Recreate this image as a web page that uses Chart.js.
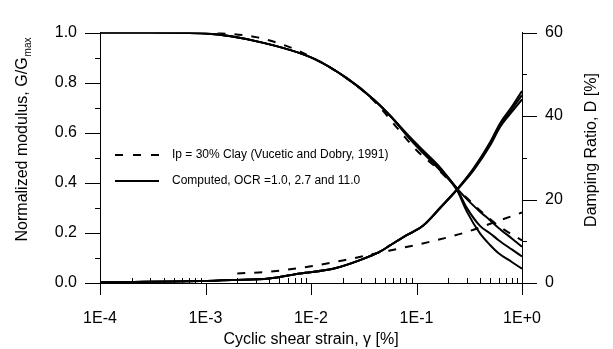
<!DOCTYPE html>
<html>
<head>
<meta charset="utf-8">
<script src="https://cdn.jsdelivr.net/npm/chart.js@4/dist/chart.umd.min.js"></script>
<style>
  html, body { margin: 0; padding: 0; background: #fff; }
  #wrap { width: 613px; height: 349px; }
</style>
</head>
<body>
<div id="wrap"><canvas id="chart"></canvas></div>
<script>
// axis ticks
const strainTicks = [1e-4, 1e-3, 1e-2, 1e-1, 1];
const strainLabels = ["1E-4", "1E-3", "1E-2", "1E-1", "1E+0"];
const modTicks = [0, 0.2, 0.4, 0.6, 0.8, 1.0];
const dampTicks = [0, 20, 40, 60];

// Ip = 30% clay (Vucetic and Dobry, 1991)
const vdStrainG = [0.0013, 0.003, 0.006, 0.01, 0.02, 0.04, 0.07, 0.1, 0.15, 0.24, 0.4, 0.6, 1.0];
const vdModulus = [1.0, 0.982, 0.945, 0.903, 0.828, 0.725, 0.605, 0.53, 0.465, 0.38, 0.29, 0.228, 0.17];
const vdStrainD = [0.002, 0.004, 0.01, 0.02, 0.045, 0.07, 0.13, 0.28, 0.5, 1.0];
const vdDamping = [2.3, 2.7, 4.0, 5.4, 7.3, 8.3, 9.8, 12.0, 14.2, 16.9];

// computed, OCR = 1.0, 2.7 and 11.0
const compStrainG = [0.0001, 0.0003, 0.001, 0.0033, 0.0105, 0.022, 0.039, 0.056, 0.087, 0.115, 0.167, 0.242, 0.3, 0.4, 0.5, 0.6, 0.8, 1.0];
const modOcrA = [1.0, 1.0, 0.996, 0.962, 0.897, 0.817, 0.734, 0.669, 0.582, 0.530, 0.462, 0.378, 0.335, 0.285, 0.250, 0.220, 0.178, 0.145];
const modOcrB = [1.0, 1.0, 0.996, 0.962, 0.897, 0.817, 0.734, 0.669, 0.578, 0.525, 0.456, 0.375, 0.300, 0.228, 0.198, 0.171, 0.134, 0.106];
const modOcrC = [1.0, 1.0, 0.996, 0.962, 0.897, 0.817, 0.734, 0.669, 0.574, 0.520, 0.450, 0.370, 0.285, 0.198, 0.151, 0.119, 0.084, 0.057];

const compStrainD = [0.0001, 0.0009, 0.0018, 0.004, 0.0079, 0.0162, 0.03, 0.045, 0.056, 0.08, 0.115, 0.17, 0.242, 0.35, 0.5, 0.62, 0.8, 1.0];
const dampOcrA = [0.2, 0.45, 0.7, 1.1, 2.3, 3.4, 5.6, 7.5, 9.0, 11.4, 13.7, 18.2, 22.4, 27.6, 33.8, 38.3, 42.2, 46.0];
const dampOcrB = [0.2, 0.45, 0.7, 1.1, 2.3, 3.4, 5.6, 7.5, 9.0, 11.4, 13.7, 18.2, 22.4, 27.4, 33.4, 37.9, 41.6, 45.0];
const dampOcrC = [0.2, 0.45, 0.7, 1.1, 2.3, 3.4, 5.6, 7.5, 9.0, 11.4, 13.7, 18.1, 22.3, 27.1, 33.0, 37.4, 41.0, 44.0];

const FONT = "'Liberation Sans', Arial, sans-serif";
Chart.defaults.font.family = FONT;
Chart.defaults.color = "#000";

function pts(xs, ys) {
  return xs.map((x, i) => ({ x: x, y: ys[i] }));
}

function line(xs, ys, axis, dashed) {
  return {
    data: pts(xs, ys),
    yAxisID: axis,
    borderColor: "#000",
    borderWidth: 2,
    borderDash: dashed ? [8, 9] : [],
    pointRadius: 0,
    fill: false,
    cubicInterpolationMode: "monotone",
  };
}

// tick marks: majors outside, x minors inside
const tickMarks = {
  id: "tickMarks",
  afterDraw(chart) {
    const { ctx } = chart;
    const { x, y, y2 } = chart.scales;
    ctx.save();
    ctx.strokeStyle = "#000";
    ctx.lineWidth = 1;
    ctx.beginPath();
    for (let i = 0; i <= 10; i++) {
      const py = Math.round(y.getPixelForValue(i / 10)) + 0.5;
      const len = i % 2 === 0 ? 15 : 5;
      ctx.moveTo(y.right - len, py);
      ctx.lineTo(y.right, py);
    }
    for (let i = 0; i <= 6; i++) {
      const py = Math.round(y2.getPixelForValue(i * 10)) + 0.5;
      const len = i % 2 === 0 ? 15 : 5;
      ctx.moveTo(y2.left, py);
      ctx.lineTo(y2.left + len, py);
    }
    const base = x.top;
    for (let e = -4; e <= 0; e++) {
      const px = Math.round(x.getPixelForValue(Math.pow(10, e))) + 0.5;
      ctx.moveTo(px, base);
      ctx.lineTo(px, base + 12);
      if (e < 0) {
        for (let m = 2; m <= 9; m++) {
          const mx = Math.round(x.getPixelForValue(m * Math.pow(10, e))) + 0.5;
          ctx.moveTo(mx, base);
          ctx.lineTo(mx, base - 5);
        }
      }
    }
    ctx.stroke();
    ctx.restore();
  },
};

// y titles (both read bottom to top) and the legend box
const extras = {
  id: "extras",
  afterDraw(chart) {
    const { ctx, chartArea: a } = chart;
    ctx.save();
    ctx.fillStyle = "#000";
    ctx.textBaseline = "middle";

    // left title with subscript
    ctx.save();
    ctx.translate(23, 140);
    ctx.rotate(-Math.PI / 2);
    const main = "Normalized modulus, G/G";
    ctx.font = "16px " + FONT;
    const w1 = ctx.measureText(main).width;
    ctx.font = "10px " + FONT;
    const w2 = ctx.measureText("max").width;
    const sx = -(w1 + w2) / 2;
    ctx.font = "16px " + FONT;
    ctx.textAlign = "left";
    ctx.fillText(main, sx, 0);
    ctx.font = "10px " + FONT;
    ctx.fillText("max", sx + w1 + 1, 5);
    ctx.restore();

    // right title
    ctx.save();
    ctx.translate(592, 150);
    ctx.rotate(-Math.PI / 2);
    ctx.font = "16px " + FONT;
    ctx.textAlign = "center";
    ctx.fillText("Damping Ratio, D [%]", 0, 0);
    ctx.restore();

    // legend
    const lx = a.left + 15, ly1 = 155, ly2 = 181;
    ctx.strokeStyle = "#000";
    ctx.lineWidth = 2;
    ctx.setLineDash([8, 10]);
    ctx.beginPath();
    ctx.moveTo(lx, ly1);
    ctx.lineTo(lx + 44, ly1);
    ctx.stroke();
    ctx.setLineDash([]);
    ctx.beginPath();
    ctx.moveTo(lx, ly2);
    ctx.lineTo(lx + 44, ly2);
    ctx.stroke();
    ctx.font = "12px " + FONT;
    ctx.textAlign = "left";
    ctx.fillText("Ip = 30% Clay (Vucetic and Dobry, 1991)", lx + 57, ly1);
    ctx.fillText("Computed, OCR =1.0, 2.7 and 11.0", lx + 57, ly2);
    ctx.restore();
  },
};

new Chart(document.getElementById("chart"), {
  type: "line",
  data: {
    datasets: [
      line(vdStrainG, vdModulus, "y", true),
      line(vdStrainD, vdDamping, "y2", true),
      line(compStrainG, modOcrA, "y", false),
      line(compStrainG, modOcrB, "y", false),
      line(compStrainG, modOcrC, "y", false),
      line(compStrainD, dampOcrA, "y2", false),
      line(compStrainD, dampOcrB, "y2", false),
      line(compStrainD, dampOcrC, "y2", false),
    ],
  },
  options: {
    responsive: true,
    maintainAspectRatio: false,
    animation: false,
    devicePixelRatio: 1,
    layout: { padding: { top: 20, left: 0, right: 0, bottom: 0 } },
    plugins: {
      legend: { display: false },
      tooltip: { enabled: false },
    },
    scales: {
      x: {
        type: "logarithmic",
        min: 1e-4,
        max: 1,
        afterBuildTicks: (s) => {
          s.ticks = strainTicks.map((v) => ({ value: v }));
        },
        ticks: {
          autoSkip: false,
          maxRotation: 0,
          padding: 26,
          font: { size: 16 },
          callback: (v, i) => strainLabels[i],
        },
        grid: { drawOnChartArea: false, drawTicks: false },
        border: { color: "#000", width: 1 },
        title: {
          display: true,
          text: "Cyclic shear strain, γ [%]",
          font: { size: 16 },
          padding: { top: 0, bottom: 0 },
        },
        afterFit: (s) => {
          s.height = 66;
        },
      },
      y: {
        position: "left",
        min: 0,
        max: 1,
        afterBuildTicks: (s) => {
          s.ticks = modTicks.map((v) => ({ value: v }));
        },
        ticks: {
          padding: 23,
          font: { size: 16 },
          callback: (v) => v.toFixed(1),
        },
        grid: { drawOnChartArea: false, drawTicks: false },
        border: { color: "#000", width: 1 },
        afterFit: (s) => {
          s.width = 100;
        },
      },
      y2: {
        position: "right",
        min: 0,
        max: 60,
        afterBuildTicks: (s) => {
          s.ticks = dampTicks.map((v) => ({ value: v }));
        },
        ticks: {
          padding: 23,
          font: { size: 16 },
        },
        grid: { drawOnChartArea: false, drawTicks: false },
        border: { color: "#000", width: 1 },
        afterFit: (s) => {
          s.width = 91;
        },
      },
    },
  },
  plugins: [tickMarks, extras],
});
</script>
</body>
</html>
